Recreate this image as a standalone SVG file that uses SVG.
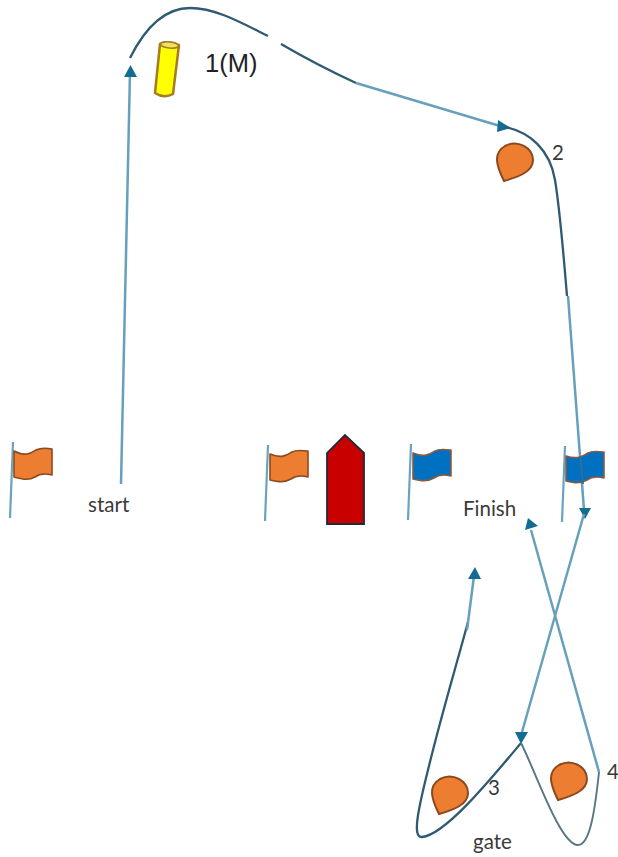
<svg xmlns="http://www.w3.org/2000/svg" width="618" height="857" viewBox="0 0 618 857">
<style>
text{font-family:"Lato","Open Sans",sans-serif;font-size:20.500px;fill:#3a3a3a}
.pole{fill:none;stroke:#6ba3bf;stroke-width:2.200}
.leg{fill:none;stroke:#66a0bc;stroke-width:2.500}
.dark{fill:none;stroke:#2f5a72;stroke-width:2.300}
.grey{fill:none;stroke:#557684;stroke-width:1.900}
.head{fill:#146c92}
.oflag{fill:#ed7d31;stroke:#8a4a20;stroke-width:1.600;stroke-linejoin:round}
.bflag{fill:#0070c0;stroke:#8a5a40;stroke-width:1.600;stroke-linejoin:round}
.mark{fill:#ed7d31;stroke:#8a4a20;stroke-width:2}
</style>
<g id="connectors">
<path class="leg" d="M121 484L130 72"/>
<path class="head" d="M130.500 65L124 77H137Z"/>
<path class="dark" d="M130 58C145 28 165 8 190 8C215 8 240 22 268 36"/>
<path class="dark" d="M281 44C305 58 330 71 356 83"/>
<path class="leg" d="M356 83L500 126"/>
<path class="head" d="M511 128L498 120L497 132Z"/>
<path class="dark" d="M505 127C530 132 550 150 555 180C560 210 564 260 567 296"/>
<path class="leg" d="M568 296L584 510"/>
<path class="head" d="M585 519L579 508H591Z"/>
<path class="leg" d="M584 514L522 732"/>
<path class="head" d="M521 744L515 732H528Z"/>
<path class="dark" d="M521 743C490 780 445 835 422 837C412 838 418 810 428 770C440 720 455 670 468 622"/>
<path class="leg" d="M467 630L474 576"/>
<path class="head" d="M475 567L468 579H481Z"/>
<path class="grey" d="M521 743C535 770 560 845 578 845C590 845 595 810 599 772"/>
<path class="leg" d="M599 772L531 530"/>
<path class="head" d="M528 518L525 530L538 526Z"/>
</g>
<g id="mark-1"><path d="M160 44Q169 40 179 45L173 94Q164 99 155 93Z" fill="#ffff00" stroke="#a67c20" stroke-width="2.500" stroke-linejoin="round"/><ellipse cx="169.500" cy="45" rx="9" ry="3" fill="#f0e060" stroke="#a67c20" stroke-width="1.500" transform="rotate(6 169.500 45)"/></g>
<g id="label-1"><text x="205" y="72" style="font-family:'Liberation Sans',Arial,sans-serif;font-size:25.500px;fill:#222">1(M)</text></g>
<g id="mark-2"><path class="mark" d="M504 181C496 165 493 153 505 146C518 139 533 148 533 160C533 172 518 177 504 181Z"/></g>
<g id="label-2"><text x="552" y="160">2</text></g>
<g id="flag-start-left"><path class="pole" d="M13 442L10 518"/><path class="oflag" d="M14 451C26 457 31 453 36 450C42 447 47 448 52 449V475C44 473 39 474 35 477C28 481 22 479 14 477Z"/></g>
<g id="label-start"><text x="88" y="512">start</text></g>
<g id="flag-start-right"><path class="pole" d="M268 445L265 521"/><path class="oflag" d="M270 454C282 459 287 455 292 452C298 449 303 451 308 451V477C300 475 295 476 291 479C284 483 278 482 270 480Z"/></g>
<g id="committee-boat"><path d="M327 524V453L345 435L364 453V524Z" fill="#c80000" stroke="#1f2a3c" stroke-width="1.800"/></g>
<g id="flag-finish-left"><path class="pole" d="M411 444L408 520"/><path class="bflag" d="M413 453C425 458 430 454 435 451C441 448 446 450 451 450V476C443 474 438 475 434 478C427 482 421 481 413 479Z"/></g>
<g id="flag-finish-right"><path class="pole" d="M565 446L562 522"/><path class="bflag" d="M566 456C578 460 583 456 588 453C594 450 599 452 604 452V478C596 476 591 477 587 480C580 484 574 483 566 481Z"/><path d="M580 456L583 484" stroke="#2f6f9a" stroke-width="2" fill="none"/></g>
<g id="label-finish"><text x="463" y="516">Finish</text></g>
<g id="mark-3"><path class="mark" d="M439 814C431 798 428 786 440 779C453 772 468 781 468 793C468 805 453 810 439 814Z"/></g>
<g id="label-3"><text x="488" y="795">3</text></g>
<g id="mark-4"><path class="mark" d="M558 800C550 784 547 772 559 765C572 758 587 767 587 779C587 791 572 796 558 800Z"/></g>
<g id="label-4"><text x="607" y="779">4</text></g>
<g id="label-gate"><text x="473" y="849">gate</text></g>
</svg>
